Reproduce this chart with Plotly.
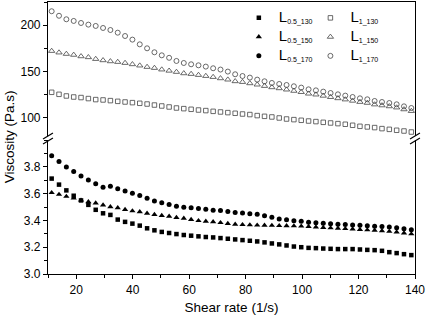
import plotly.graph_objects as go

shear_rate = [11.3, 13.9, 16.5, 19.1, 21.7, 24.3, 26.9, 29.5, 32.1, 34.7,
              37.3, 39.9, 42.5, 45.1, 47.7, 50.3, 52.9, 55.5, 58.1, 60.7,
              63.3, 65.9, 68.5, 71.1, 73.7, 76.3, 78.9, 81.5, 84.1, 86.7,
              89.3, 91.9, 94.5, 97.1, 99.7, 102.3, 104.9, 107.5, 110.1, 112.7,
              115.3, 117.9, 120.5, 123.1, 125.7, 128.3, 130.9, 133.5, 136.1, 138.7]

L1_170 = [215.2, 210.3, 206.5, 204.7, 202.5, 200.7, 199.3, 197.1, 194.9, 192.0,
          188.4, 184.5, 179.4, 175.1, 170.8, 167.5, 164.8, 161.4, 159.2, 157.8,
          156.7, 155.3, 153.5, 152.1, 149.9, 147.0, 145.1, 143.4, 141.2, 139.4,
          137.6, 136.5, 135.4, 134.0, 132.6, 130.7, 129.6, 128.2, 126.7, 125.3,
          123.9, 122.4, 121.0, 119.9, 118.1, 117.0, 115.9, 114.5, 112.3, 110.5]
L1_150 = [172.2, 170.5, 169.0, 168.0, 166.4, 165.4, 163.5, 162.1, 161.0, 160.3,
          159.2, 157.8, 156.4, 154.9, 153.8, 152.1, 150.8, 149.5, 148.0, 147.3,
          146.2, 145.1, 144.0, 142.6, 141.2, 139.4, 138.6, 137.2, 135.8, 134.3,
          132.9, 131.8, 130.4, 129.0, 127.7, 126.0, 125.0, 123.7, 122.3, 121.0,
          119.7, 118.3, 117.0, 116.0, 114.3, 113.3, 112.3, 111.0, 109.0, 107.2]
L1_130 = [127.5, 125.3, 123.5, 122.4, 121.8, 120.7, 119.6, 119.2, 118.5, 117.7,
          117.0, 116.3, 115.6, 114.8, 113.7, 112.7, 111.6, 110.5, 109.8, 109.1,
          108.3, 107.7, 106.9, 106.2, 105.5, 104.8, 104.0, 103.4, 102.3, 101.5,
          100.8, 99.7, 98.6, 97.9, 97.2, 96.4, 95.8, 95.0, 94.3, 93.6,
          92.9, 91.8, 90.7, 90.0, 89.3, 88.2, 87.4, 86.4, 85.6, 84.5]

L05_170 = [3.882, 3.840, 3.799, 3.765, 3.732, 3.702, 3.674, 3.647, 3.654, 3.637,
           3.619, 3.602, 3.586, 3.566, 3.544, 3.531, 3.519, 3.506, 3.499, 3.494,
           3.489, 3.484, 3.476, 3.474, 3.466, 3.459, 3.456, 3.449, 3.446, 3.434,
           3.423, 3.411, 3.404, 3.398, 3.393, 3.387, 3.382, 3.378, 3.375, 3.372,
           3.369, 3.366, 3.363, 3.360, 3.357, 3.354, 3.350, 3.345, 3.338, 3.331]
L05_150 = [3.607, 3.594, 3.579, 3.566, 3.551, 3.539, 3.529, 3.514, 3.501, 3.494,
           3.481, 3.471, 3.464, 3.453, 3.444, 3.436, 3.431, 3.421, 3.416, 3.406,
           3.398, 3.393, 3.389, 3.383, 3.376, 3.371, 3.368, 3.366, 3.364, 3.363,
           3.362, 3.361, 3.360, 3.359, 3.357, 3.354, 3.350, 3.347, 3.344, 3.341,
           3.338, 3.335, 3.332, 3.329, 3.326, 3.322, 3.318, 3.313, 3.306, 3.299]
L05_130 = [3.712, 3.667, 3.624, 3.584, 3.549, 3.516, 3.479, 3.453, 3.441, 3.406,
           3.389, 3.376, 3.361, 3.341, 3.326, 3.314, 3.306, 3.298, 3.291, 3.286,
           3.281, 3.276, 3.273, 3.268, 3.263, 3.258, 3.253, 3.248, 3.243, 3.236,
           3.228, 3.221, 3.213, 3.205, 3.200, 3.195, 3.193, 3.190, 3.188, 3.186,
           3.186, 3.186, 3.183, 3.180, 3.178, 3.173, 3.163, 3.156, 3.148, 3.141]

names_05 = ["0.5_130", "0.5_150", "0.5_170"]
names_1 = ["1_130", "1_150", "1_170"]
x_ticks = [20, 40, 60, 80, 100, 120, 140]
y_low_ticks = [3.0, 3.2, 3.4, 3.6, 3.8]
y_up_ticks = [100, 150, 200]

FONT = "Liberation Sans, Arial, sans-serif"
W, H = 427, 317
ML, MR, MT, MB = 48, 10, 2, 43
PW, PH = W - ML - MR, H - MT - MB


def lab(sub):
    return "<span style='font-size:15px'>L</span><sub>" + sub + "</sub>"


fig = go.Figure()
symbols = ["square", "triangle-up", "circle"]
fill_sizes = [4.5, 5.5, 5]
open_sizes = [4.5, 5.5, 5]
for name, vals, sym, sz in zip(names_05, [L05_130, L05_150, L05_170], symbols, fill_sizes):
    fig.add_trace(go.Scatter(
        x=shear_rate, y=vals, mode="markers", name=lab(name),
        marker=dict(symbol=sym, size=sz, color="black", line=dict(width=0)),
        xaxis="x", yaxis="y", legend="legend"))
for name, vals, sym, sz in zip(names_1, [L1_130, L1_150, L1_170], symbols, open_sizes):
    fig.add_trace(go.Scatter(
        x=shear_rate, y=vals, mode="markers", name=lab(name),
        marker=dict(symbol=sym + "-open", size=sz, color="#444444", line=dict(width=0.8)),
        xaxis="x2", yaxis="y2", legend="legend2"))

lo_top = 134 / PH
up_bot = 1 - 134 / PH

axis_common = dict(showline=True, linecolor="black", linewidth=1.2,
                   showgrid=False, zeroline=False,
                   tickfont=dict(family=FONT, size=12, color="black"),
                   ticks="outside", ticklen=4, tickwidth=1, tickcolor="black",
                   ticklabeloverflow="allow")

fig.update_layout(
    width=W, height=H,
    margin=dict(l=ML, r=MR, t=MT, b=MB),
    paper_bgcolor="white", plot_bgcolor="white",
    font=dict(family=FONT, size=12, color="black"),
    xaxis=dict(**axis_common, range=[10, 140], tickvals=x_ticks,
               anchor="y", domain=[0, 1], mirror=False,
               minor=dict(ticks="outside", ticklen=2.5, tickcolor="black", dtick=10, tick0=0),
               title=dict(text="Shear rate (1/s)", font=dict(family=FONT, size=13.5), standoff=7)),
    xaxis2=dict(range=[10, 140], anchor="y2", overlaying="x", side="top",
                showline=True, linecolor="black", linewidth=1.2, showticklabels=False,
                ticks="", showgrid=False, zeroline=False),
    yaxis=dict(**axis_common, range=[3.0, 4.0], domain=[0, lo_top], anchor="x",
               tickvals=y_low_ticks, tickformat=".1f",
               mirror=True,
               minor=dict(ticks="outside", ticklen=2.5, tickcolor="black", dtick=0.1, tick0=3.0)),
    yaxis2=dict(**axis_common, range=[80.2, 225.2], domain=[up_bot, 1], anchor="x2",
                tickvals=y_up_ticks, mirror=True,
                minor=dict(ticks="outside", ticklen=2.5, tickcolor="black", dtick=25, tick0=0)),
    legend=dict(x=0.52, y=0.995, xanchor="left", yanchor="top", bgcolor="rgba(0,0,0,0)",
                font=dict(family=FONT, size=10, color="black"), tracegroupgap=0,
                itemwidth=30),
    legend2=dict(x=0.715, y=0.995, xanchor="left", yanchor="top", bgcolor="rgba(0,0,0,0)",
                 font=dict(family=FONT, size=10, color="black"), tracegroupgap=0,
                 itemwidth=30),
    showlegend=True,
)

fig.add_annotation(text="Viscosity (Pa.s)", textangle=-90, xref="paper", yref="paper",
                   x=-(ML - 9) / PW, y=(PH - (137 - MT)) / PH, xanchor="center", yanchor="middle",
                   showarrow=False, font=dict(family=FONT, size=13.5, color="black"))


def py(px_y):
    return (H - MB - px_y) / PH


def px(px_x):
    return (px_x - ML) / PW


for xc in (ML, W - MR):
    for yc in (136, 141):
        fig.add_shape(type="line", xref="paper", yref="paper",
                      x0=px(xc - 5), y0=py(yc + 3), x1=px(xc + 5), y1=py(yc - 3),
                      line=dict(color="black", width=1.2))

fig.write_html("out.html", config={"displayModeBar": False},
               post_script="document.body.style.margin='0';document.body.style.padding='0';")
